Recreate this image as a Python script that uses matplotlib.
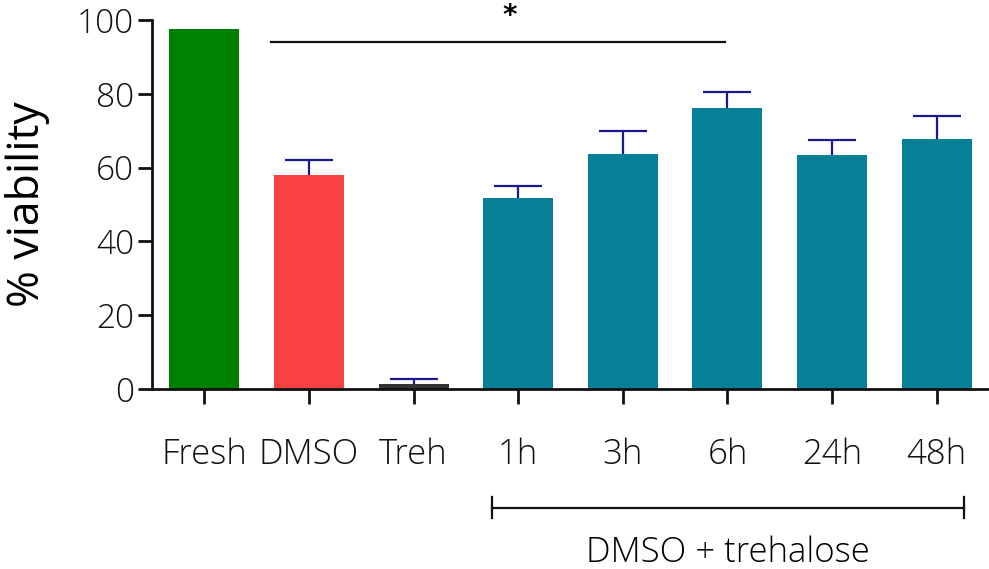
import matplotlib
matplotlib.use('Agg')
import matplotlib.pyplot as plt

groups = ['Fresh', 'DMSO', 'Treh', '1h', '3h', '6h', '24h', '48h']
viability = [97.5, 58.0, 1.4, 51.8, 63.7, 76.2, 63.4, 67.8]
sem = [0, 4.1, 1.4, 3.3, 6.1, 4.2, 4.1, 6.2]
colors = ['#008000', '#F94141', '#333333', '#077F96', '#077F96', '#077F96', '#077F96', '#077F96']

plt.rcParams['font.family'] = ['Open Sans', 'DejaVu Sans']
plt.rcParams['font.weight'] = 'light'

fig = plt.figure(figsize=(9.89, 5.69), dpi=100)
ax = fig.add_axes([152 / 989, 180 / 569, 837 / 989, 369 / 569])

x = list(range(len(groups)))
ax.bar(x, viability, width=0.67, color=colors, zorder=2)
err_x = [i for i in x if sem[i] > 0]
_, caps, _ = ax.errorbar(err_x, [viability[i] for i in err_x],
                         yerr=[[0] * len(err_x), [sem[i] for i in err_x]],
                         fmt='none', ecolor='#1a1a8c', elinewidth=1.6, capsize=17,
                         capthick=1.6, zorder=3)
# only the upper caps are drawn
caps[0].set_visible(False)

ax.set_xlim(-0.5, 7.5)
ax.set_ylim(0, 100)
ax.set_yticks([0, 20, 40, 60, 80, 100])
ax.set_xticks(x)
ax.set_xticklabels(groups)
for s in ['top', 'right']:
    ax.spines[s].set_visible(False)
for s in ['left', 'bottom']:
    ax.spines[s].set_linewidth(2)
    ax.spines[s].set_color('#111111')
ax.tick_params(axis='y', length=10, width=2, labelsize=24, pad=3, colors='#111111')
ax.tick_params(axis='x', length=11, width=2, labelsize=25, pad=24, colors='#111111')
ax.set_ylabel('% viability', fontsize=32, labelpad=19)

# significance line
ax.plot([0.64, 4.98], [94, 94], color='#111111', lw=1.6, clip_on=False)
ax.text(2.92, 99.0, '*', ha='center', va='baseline', fontsize=20, fontweight='bold',
        family='DejaVu Sans')

# group bracket
ax.plot([2.75, 7.26], [-32.2, -32.2], color='#111111', lw=1.6, clip_on=False)
ax.plot([2.75, 2.75], [-29.4, -35.0], color='#111111', lw=1.6, clip_on=False)
ax.plot([7.26, 7.26], [-29.4, -35.0], color='#111111', lw=1.6, clip_on=False)
ax.text(5.0, -44.5, 'DMSO + trehalose', ha='center', va='center', fontsize=25)

fig.savefig('out.png', dpi=100)
